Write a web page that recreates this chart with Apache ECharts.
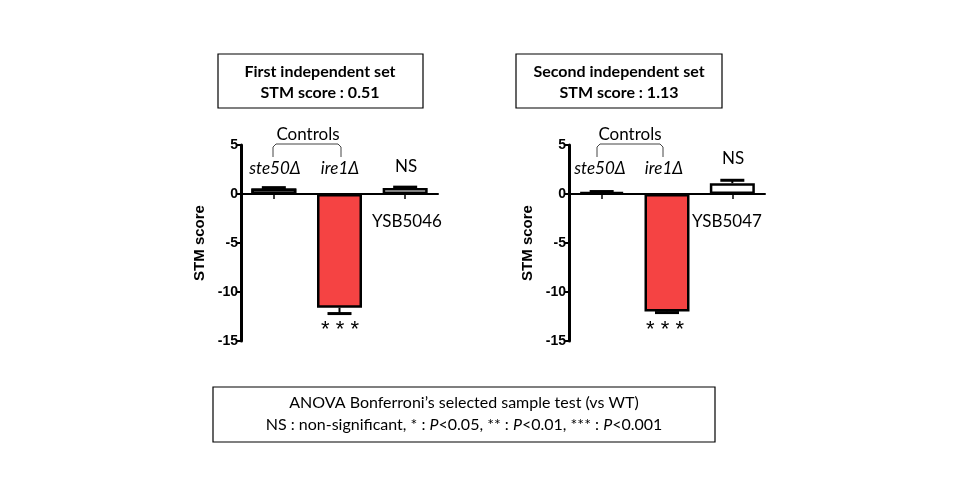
<!DOCTYPE html>
<html>
<head>
<meta charset="utf-8">
<script src="https://cdn.jsdelivr.net/npm/echarts@6.0.0/dist/echarts.min.js"></script>
<style>
  html, body { margin: 0; padding: 0; background: #fff; }
  #chartMain { width: 960px; height: 500px; }
</style>
</head>
<body>
<div id="chartMain"></div>
<script>
// data
var categories = ['ste50Δ', 'ire1Δ', 'YSB'];
var firstValues = [0.55, -11.6, 0.6];
var firstErrors = [0.1, 0.6, 0.1];
var secondValues = [0.2, -12.0, 1.1];
var secondErrors = [0.05, 0.1, 0.3];
var barColors = ['#ffffff', '#f54343', '#ffffff'];
var yTicks = { min: -15, max: 5, interval: 5 };
var titleFirst = ['First independent set', 'STM score : 0.51'];
var titleSecond = ['Second independent set', 'STM score : 1.13'];

var chart = echarts.init(document.getElementById('chartMain'));

var txtFont = 'Lato, "Open Sans", sans-serif';
var axFont = '"Liberation Sans", Arial, sans-serif';

function barData(vals, dotted) {
    return vals.map(function(v, i) {
        var st = { color: barColors[i] };
        if (dotted && i === 0) {
            st.decal = { symbol: 'rect', symbolSize: 1, dashArrayX: [3, 2], dashArrayY: [1, 1], color: '#000', rotation: 0 };
        }
        return { value: v, itemStyle: st };
    });
}
function errData(vals, errs) {
    return vals.map(function(v, i) { return [i, v, errs[i]]; });
}
function renderErr(params, api) {
    var x = api.value(0), v = api.value(1), e = api.value(2);
    var end = v + (v < 0 ? -e : e);
    var p0 = api.coord([x, v]);
    var p1 = api.coord([x, end]);
    return {
        type: 'group',
        children: [
            { type: 'line', shape: { x1: p0[0], y1: p0[1], x2: p1[0], y2: p1[1] }, style: { stroke: '#000', lineWidth: 2 } },
            { type: 'line', shape: { x1: p1[0] - 12, y1: p1[1], x2: p1[0] + 12, y2: p1[1] }, style: { stroke: '#000', lineWidth: 3 } }
        ]
    };
}
function yAxisDef(idx) {
    return {
        type: 'value', gridIndex: idx,
        min: yTicks.min, max: yTicks.max, interval: yTicks.interval,
        name: 'STM score', nameLocation: 'middle', nameGap: 34, nameRotate: 90,
        nameTextStyle: { fontFamily: axFont, fontWeight: 'bold', fontSize: 15, color: '#000' },
        axisLine: { show: true, lineStyle: { color: '#000', width: 3 } },
        axisTick: { show: true, length: 5, lineStyle: { color: '#000', width: 2 } },
        axisLabel: { fontFamily: axFont, fontWeight: 'bold', fontSize: 14, color: '#000', margin: 3 },
        splitLine: { show: false }
    };
}
function xAxisDef(idx) {
    return {
        type: 'category', gridIndex: idx, data: categories,
        axisLine: { onZero: true, lineStyle: { color: '#000', width: 2 } },
        axisTick: { show: true, alignWithLabel: true, length: 5, lineStyle: { color: '#000', width: 1.5 } },
        axisLabel: { show: false }
    };
}
function txt(x, y, s, opt) {
    opt = opt || {};
    return {
        type: 'text', x: x, y: y, z: 10,
        style: {
            text: s, textAlign: 'center', textVerticalAlign: 'middle',
            font: (opt.style || '') + ' ' + (opt.weight || 'normal') + ' ' + (opt.size || 17) + 'px ' + (opt.family || txtFont),
            fill: '#000'
        }
    };
}
function box(x, y, w, h) {
    return { type: 'rect', shape: { x: x, y: y, width: w, height: h }, style: { fill: '#fff', stroke: '#000', lineWidth: 1.2 }, z: 5 };
}
function bracket(x1, x2, y) {
    return {
        type: 'polyline', z: 10,
        shape: { points: [[x1, y + 13], [x1, y + 3], [x1 + 3, y], [x2 - 3, y], [x2, y + 3], [x2, y + 13]] },
        style: { stroke: '#444', lineWidth: 1, fill: null }
    };
}

var option = {
    animation: false,
    backgroundColor: '#fff',
    grid: [
        { left: 241, top: 145, width: 197, height: 196 },
        { left: 569, top: 145, width: 196, height: 196 }
    ],
    xAxis: [xAxisDef(0), xAxisDef(1)],
    yAxis: [yAxisDef(0), yAxisDef(1)],
    series: [
        { type: 'bar', xAxisIndex: 0, yAxisIndex: 0, data: barData(firstValues, true), barWidth: 45,
          itemStyle: { borderColor: '#000', borderWidth: 2.5 } },
        { type: 'custom', xAxisIndex: 0, yAxisIndex: 0, data: errData(firstValues, firstErrors), renderItem: renderErr, z: 5 },
        { type: 'bar', xAxisIndex: 1, yAxisIndex: 1, data: barData(secondValues, false), barWidth: 45,
          itemStyle: { borderColor: '#000', borderWidth: 2.5 } },
        { type: 'custom', xAxisIndex: 1, yAxisIndex: 1, data: errData(secondValues, secondErrors), renderItem: renderErr, z: 5 }
    ],
    graphic: [
        box(218, 54, 205, 54),
        txt(320, 72, titleFirst[0], { weight: 'bold', size: 16 }),
        txt(320, 93, titleFirst[1], { weight: 'bold', size: 16 }),
        box(516, 54, 206, 54),
        txt(619, 72, titleSecond[0], { weight: 'bold', size: 16 }),
        txt(619, 93, titleSecond[1], { weight: 'bold', size: 16 }),

        txt(308, 135, 'Controls', { size: 17 }),
        bracket(273, 341, 144),
        txt(275, 169, 'ste50Δ', { style: 'italic' }),
        txt(340, 169, 'ire1Δ', { style: 'italic' }),
        txt(406, 167, 'NS'),
        txt(407, 222, 'YSB5046'),
        txt(340, 330, '* * *', { size: 22, family: axFont }),

        txt(630, 135, 'Controls', { size: 17 }),
        bracket(597, 663, 144),
        txt(600, 169, 'ste50Δ', { style: 'italic' }),
        txt(664, 169, 'ire1Δ', { style: 'italic' }),
        txt(733, 159, 'NS'),
        txt(727, 222, 'YSB5047'),
        txt(665, 330, '* * *', { size: 22, family: axFont }),

        box(213, 387, 502, 55),
        {
            type: 'text', x: 464, y: 403, z: 10,
            style: { text: 'ANOVA Bonferroni\u2019s selected sample test (vs WT)', textAlign: 'center', textVerticalAlign: 'middle',
                     font: '16px ' + txtFont, fill: '#000' }
        },
        {
            type: 'text', x: 464, y: 425, z: 10,
            style: {
                text: 'NS : non-significant, * : {i|P}<0.05, ** : {i|P}<0.01, *** : {i|P}<0.001',
                rich: { i: { fontStyle: 'italic', fontFamily: txtFont, fontSize: 16 } },
                textAlign: 'center', textVerticalAlign: 'middle',
                font: '16px ' + txtFont, fill: '#000'
            }
        }
    ]
};
chart.setOption(option, true);
</script>
</body>
</html>
